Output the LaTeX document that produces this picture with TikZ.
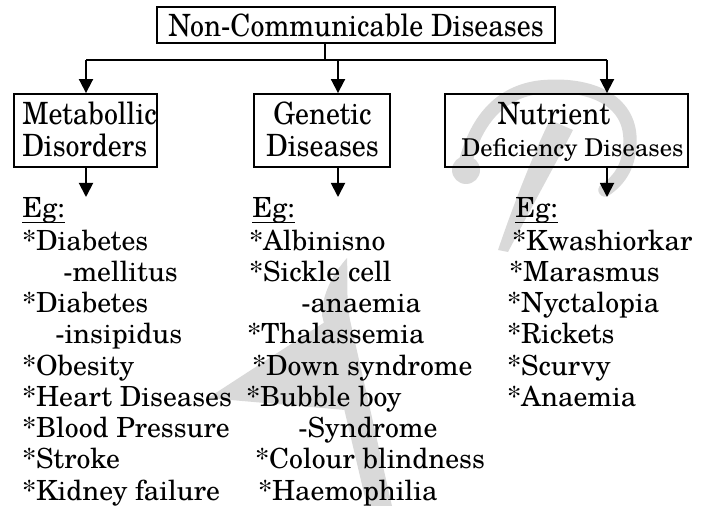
\documentclass[tikz,border=0pt]{standalone}
\usepackage{fontspec}
\setmainfont{TeX Gyre Schola}
\newfontfamily\hdfont[FakeStretch=0.91]{TeX Gyre Schola}
\usetikzlibrary{arrows.meta}

\begin{document}
\begin{tikzpicture}[x=0.75pt,y=-0.75pt,
  box/.style={draw,line width=1.4pt,inner sep=0,minimum height=54.75pt},
  link/.style={line width=1.4pt},
  arr/.style={line width=1.4pt,-{Triangle[width=10.5pt,length=10.5pt]}},
  head/.style={inner sep=0,font=\hdfont\fontsize{23}{27}\selectfont},
  item/.style={inner sep=0,anchor=base west,font=\fontsize{20.8}{25}\selectfont},
  small/.style={inner sep=0,anchor=base west,font=\fontsize{18.4}{22}\selectfont},
  uline/.style={line width=1.1pt},
  wmfill/.style={fill=black!15,draw=none},
  wmline/.style={draw=black!15,line cap=round}]

\useasboundingbox (0,0) rectangle (703,506);

% faint background logo: lower letter
\fill[wmfill] (208,398) -- (328,320) -- (345,410) -- cycle;
\fill[wmfill] (347,258) .. controls (332,275) and (322,295) .. (322,315)
  -- (367,506) -- (392,506) -- (350,320) .. controls (346,300) and (348,280) .. (347,258) -- cycle;
% faint background logo: upper letter
\fill[wmfill] (498,250) .. controls (515,200) and (535,150) .. (550,120)
  -- (573,130) .. controls (555,165) and (530,210) .. (508,252) -- cycle;
\draw[wmline,line width=10pt] (464,168) .. controls (475,120) and (500,92) .. (540,87)
  .. controls (590,82) and (630,100) .. (630,140) .. controls (630,165) and (620,180) .. (605,190);
\fill[wmfill] (466,170) circle (14);

% boxes
\node[box,minimum width=298.5pt,minimum height=27pt] (top) at (356,25) {};
\node[box,minimum width=107.25pt] (met) at (85.5,130.5) {};
\node[box,minimum width=102pt] (gen) at (322,130.5) {};
\node[box,minimum width=182.25pt] (nut) at (566.5,130.5) {};

% box texts
\node[head,anchor=base] (ttl) at (356,37) {Non-Communicable Diseases};
\node[head,anchor=base west] (met1) at (22,125) {Metabollic};
\node[head,anchor=base west] (met2) at (22,157) {Disorders};
\node[head,anchor=base] (gen1) at (322.5,125) {Genetic};
\node[head,anchor=base] (gen2) at (322.5,157) {Diseases};
\node[head,anchor=base] (nut1) at (554,125) {Nutrient};
\node[small] (nut2) at (461,157) {Deficiency Diseases};

% branching connectors
\coordinate (stem) at (325,60);
\coordinate (jm) at (86,60);
\coordinate (jg) at (338,60);
\coordinate (jn) at (607,60);
\draw[link] (top.south -| stem) -- (stem);
\draw[link] (jm) -- (jn);
\draw[arr] (jm) -- (jm |- met.north);
\draw[arr] (jg) -- (jg |- gen.north);
\draw[arr] (jn) -- (jn |- nut.north);

\coordinate (em) at (86,197);
\coordinate (eg) at (338,197);
\coordinate (en) at (607,197);
\draw[arr] (met.south -| em) -- (em);
\draw[arr] (gen.south -| eg) -- (eg);
\draw[arr] (nut.south -| en) -- (en);

% example headings
\node[item] (e1) at (22,218) {Eg:};
\node[item] (e2) at (252,218) {Eg:};
\node[item] (e3) at (515,218) {Eg:};
\foreach \e in {e1,e2,e3}
  \draw[uline] ([yshift=-3.2pt]\e.base west) -- ([yshift=-3.2pt]\e.base east);

% example lists
\foreach \nm/\xx/\yy/\tx in {
  m1/22/250/{*Diabetes}, m2/63/281.25/{-mellitus}, m3/22/312.5/{*Diabetes},
  m4/55/343.75/{-insipidus}, m5/22/375/{*Obesity}, m6/22/406.25/{*Heart Diseases},
  m7/22/437.5/{*Blood Pressure}, m8/22/468.75/{*Stroke}, m9/22/500/{*Kidney failure},
  g1/249/250/{*Albinisno}, g2/249/281.25/{*Sickle cell}, g3/301/312.5/{-anaemia},
  g4/247/343.75/{*Thalassemia}, g5/252/375/{*Down syndrome}, g6/246/406.25/{*Bubble boy},
  g7/298/437.5/{-Syndrome}, g8/255/468.75/{*Colour blindness}, g9/258/500/{*Haemophilia},
  n1/512/250/{*Kwashiorkar}, n2/509/281.25/{*Marasmus}, n3/507/312.5/{*Nyctalopia},
  n4/507/343.75/{*Rickets}, n5/507/375/{*Scurvy}, n6/507/406.25/{*Anaemia}}
  \node[item] (\nm) at (\xx,\yy) {\tx};

\end{tikzpicture}
\end{document}
